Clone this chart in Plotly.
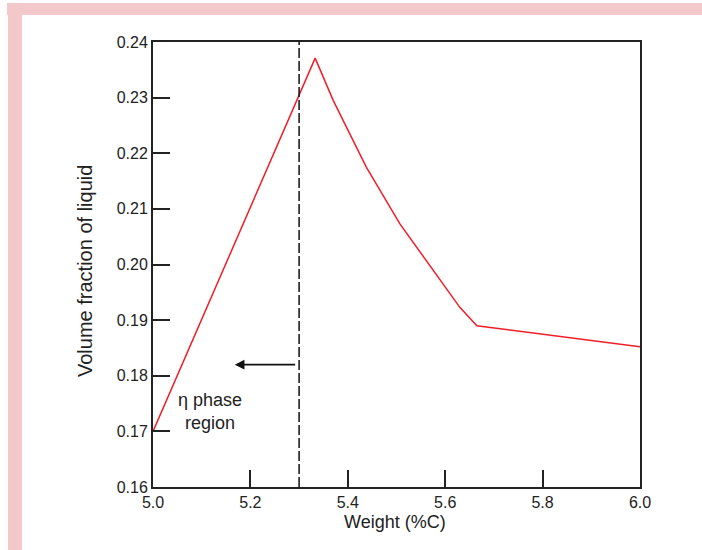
import plotly.graph_objects as go

# Volume fraction of liquid versus carbon content
weight_c = [5.0, 5.333, 5.37, 5.438, 5.507, 5.575, 5.63, 5.665, 6.0]
liquid_fraction = [0.170, 0.2371, 0.2295, 0.2175, 0.2073, 0.1989, 0.1923, 0.1890, 0.1852]

# Boundary of the eta phase region
eta_boundary = 5.3
arrow_tip = 5.168
arrow_level = 0.182
label_pos = (5.117, 0.1735)

x_ticks = [5.0, 5.2, 5.4, 5.6, 5.8, 6.0]
y_ticks = [0.16, 0.17, 0.18, 0.19, 0.20, 0.21, 0.22, 0.23, 0.24]

FONT = "Liberation Sans, Arial, Helvetica, sans-serif"
INK = "#222222"
PINK = "#f3c8ca"

fig = go.Figure()

fig.add_trace(go.Scatter(
    x=weight_c, y=liquid_fraction, mode="lines",
    line=dict(color="#f01e28", width=1.5),
    hoverinfo="skip", showlegend=False,
))

fig.add_trace(go.Scatter(
    x=[eta_boundary, eta_boundary], y=[y_ticks[0], y_ticks[-1]], mode="lines",
    line=dict(color="#111111", width=1.5, dash="10px,3px"),
    hoverinfo="skip", showlegend=False,
))

fig.add_annotation(
    x=arrow_tip, y=arrow_level, ax=eta_boundary - 0.005, ay=arrow_level,
    xref="x", yref="y", axref="x", ayref="y",
    text="", showarrow=True, arrowhead=2, arrowsize=1.2, arrowwidth=1.6,
    arrowcolor="#111111",
)

fig.add_annotation(
    x=label_pos[0], y=label_pos[1], xref="x", yref="y",
    text="η phase<br>region", showarrow=False,
    font=dict(family=FONT, size=18, color=INK), align="center",
)

# Axis titles
fig.add_annotation(
    x=0.4969, y=-0.0787, xref="paper", yref="paper",
    text="Weight (%C)", showarrow=False, xanchor="center", yanchor="middle",
    font=dict(family=FONT, size=18, color=INK),
)
fig.add_annotation(
    x=-0.1396, y=0.4854, xref="paper", yref="paper",
    text="Volume fraction of liquid", showarrow=False, textangle=-90,
    xanchor="center", yanchor="middle",
    font=dict(family=FONT, size=20, color=INK),
)

# Pink page frame along the top and left edges
fig.add_shape(type="rect", xref="paper", yref="paper",
              x0=-0.2998, x1=1.13, y0=1.0607, y1=1.0876,
              fillcolor=PINK, line=dict(width=0), layer="below")
fig.add_shape(type="rect", xref="paper", yref="paper",
              x0=-0.2977, x1=-0.269, y0=-0.15, y1=1.0876,
              fillcolor=PINK, line=dict(width=0), layer="below")

axis_common = dict(
    showgrid=False, zeroline=False, showline=True, mirror=True,
    linecolor=INK, linewidth=2, ticks="inside", ticklen=17, tickwidth=2,
    tickcolor=INK, tickfont=dict(family=FONT, size=16, color=INK),
)

fig.update_xaxes(range=[5.0, 6.0], tickvals=x_ticks, tickformat=".1f", **axis_common)
fig.update_yaxes(range=[0.16, 0.24], tickvals=y_ticks, tickformat=".2f", **axis_common)

fig.update_layout(
    width=702, height=550,
    margin=dict(l=153, r=62, t=42, b=63),
    paper_bgcolor="white", plot_bgcolor="white",
    showlegend=False,
)

fig.write_html("out.html")
